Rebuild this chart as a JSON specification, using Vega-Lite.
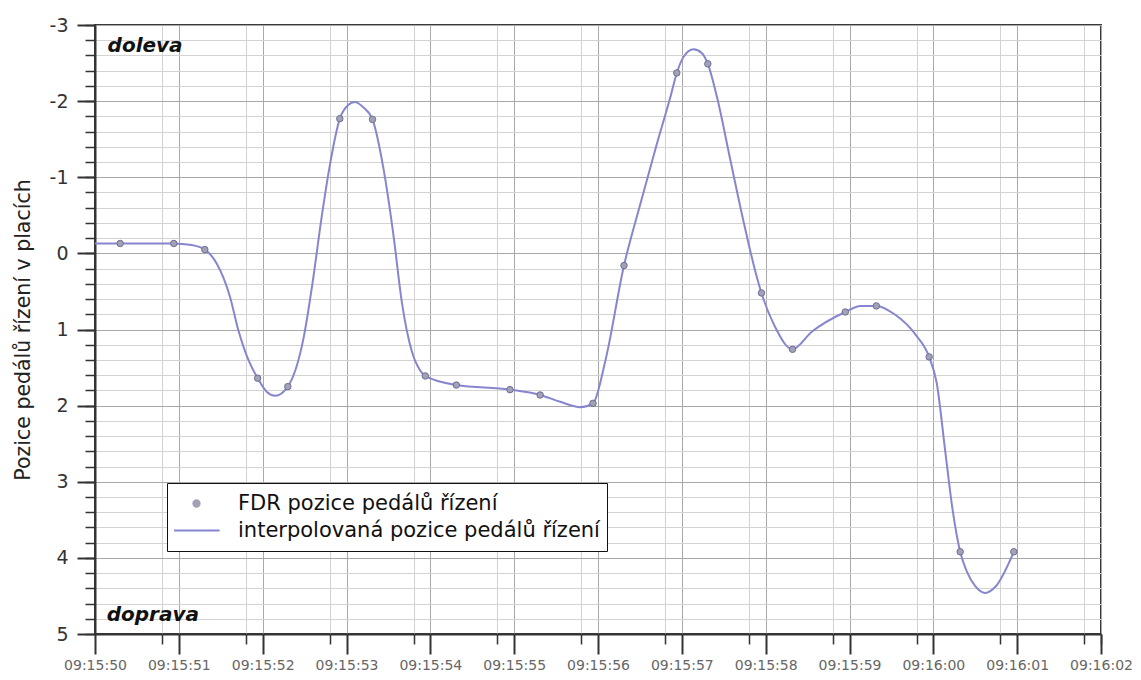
{
  "$schema": "https://vega.github.io/schema/vega-lite/v6.json",
  "width": 1006,
  "height": 609,
  "autosize": {"type": "none"},
  "padding": {"left": 95, "top": 25, "right": 40, "bottom": 46},
  "background": "white",
  "config": {
    "font": "DejaVu Sans",
    "view": {"stroke": "#3a3a3a", "strokeWidth": 2}
  },
  "datasets": {
    "fdr": [
      {"time": "2011-01-01T09:15:50.300", "position": -0.13},
      {"time": "2011-01-01T09:15:50.940", "position": -0.13},
      {"time": "2011-01-01T09:15:51.310", "position": -0.05},
      {"time": "2011-01-01T09:15:51.940", "position": 1.64},
      {"time": "2011-01-01T09:15:52.300", "position": 1.75},
      {"time": "2011-01-01T09:15:52.920", "position": -1.77},
      {"time": "2011-01-01T09:15:53.310", "position": -1.76},
      {"time": "2011-01-01T09:15:53.940", "position": 1.61},
      {"time": "2011-01-01T09:15:54.310", "position": 1.73},
      {"time": "2011-01-01T09:15:54.950", "position": 1.79},
      {"time": "2011-01-01T09:15:55.310", "position": 1.86},
      {"time": "2011-01-01T09:15:55.940", "position": 1.97},
      {"time": "2011-01-01T09:15:56.310", "position": 0.16},
      {"time": "2011-01-01T09:15:56.940", "position": -2.37},
      {"time": "2011-01-01T09:15:57.310", "position": -2.49},
      {"time": "2011-01-01T09:15:57.950", "position": 0.52},
      {"time": "2011-01-01T09:15:58.320", "position": 1.26},
      {"time": "2011-01-01T09:15:58.950", "position": 0.77},
      {"time": "2011-01-01T09:15:59.320", "position": 0.69},
      {"time": "2011-01-01T09:15:59.950", "position": 1.36},
      {"time": "2011-01-01T09:16:00.320", "position": 3.92},
      {"time": "2011-01-01T09:16:00.960", "position": 3.92}
    ],
    "interpolated": [
      {"time": "2011-01-01T09:15:50.000", "position": -0.13},
      {"time": "2011-01-01T09:15:50.300", "position": -0.13},
      {"time": "2011-01-01T09:15:50.940", "position": -0.13},
      {"time": "2011-01-01T09:15:51.150", "position": -0.11},
      {"time": "2011-01-01T09:15:51.310", "position": -0.05},
      {"time": "2011-01-01T09:15:51.450", "position": 0.13},
      {"time": "2011-01-01T09:15:51.610", "position": 0.57},
      {"time": "2011-01-01T09:15:51.710", "position": 1.01},
      {"time": "2011-01-01T09:15:51.830", "position": 1.40},
      {"time": "2011-01-01T09:15:51.940", "position": 1.64},
      {"time": "2011-01-01T09:15:52.050", "position": 1.82},
      {"time": "2011-01-01T09:15:52.150", "position": 1.87},
      {"time": "2011-01-01T09:15:52.300", "position": 1.75},
      {"time": "2011-01-01T09:15:52.490", "position": 1.10},
      {"time": "2011-01-01T09:15:52.600", "position": 0.35},
      {"time": "2011-01-01T09:15:52.700", "position": -0.45},
      {"time": "2011-01-01T09:15:52.800", "position": -1.15},
      {"time": "2011-01-01T09:15:52.920", "position": -1.77},
      {"time": "2011-01-01T09:15:53.020", "position": -1.95},
      {"time": "2011-01-01T09:15:53.100", "position": -1.99},
      {"time": "2011-01-01T09:15:53.200", "position": -1.92},
      {"time": "2011-01-01T09:15:53.310", "position": -1.76},
      {"time": "2011-01-01T09:15:53.440", "position": -1.12},
      {"time": "2011-01-01T09:15:53.560", "position": -0.24},
      {"time": "2011-01-01T09:15:53.660", "position": 0.64},
      {"time": "2011-01-01T09:15:53.780", "position": 1.29},
      {"time": "2011-01-01T09:15:53.880", "position": 1.54},
      {"time": "2011-01-01T09:15:53.940", "position": 1.61},
      {"time": "2011-01-01T09:15:54.310", "position": 1.73},
      {"time": "2011-01-01T09:15:54.950", "position": 1.79},
      {"time": "2011-01-01T09:15:55.310", "position": 1.86},
      {"time": "2011-01-01T09:15:55.550", "position": 1.95},
      {"time": "2011-01-01T09:15:55.790", "position": 2.02},
      {"time": "2011-01-01T09:15:55.940", "position": 1.97},
      {"time": "2011-01-01T09:15:56.090", "position": 1.40},
      {"time": "2011-01-01T09:15:56.310", "position": 0.16},
      {"time": "2011-01-01T09:15:56.500", "position": -0.63},
      {"time": "2011-01-01T09:15:56.700", "position": -1.43},
      {"time": "2011-01-01T09:15:56.860", "position": -2.04},
      {"time": "2011-01-01T09:15:56.940", "position": -2.37},
      {"time": "2011-01-01T09:15:57.020", "position": -2.58},
      {"time": "2011-01-01T09:15:57.140", "position": -2.68},
      {"time": "2011-01-01T09:15:57.240", "position": -2.63},
      {"time": "2011-01-01T09:15:57.310", "position": -2.49},
      {"time": "2011-01-01T09:15:57.420", "position": -2.05},
      {"time": "2011-01-01T09:15:57.580", "position": -1.22},
      {"time": "2011-01-01T09:15:57.740", "position": -0.40},
      {"time": "2011-01-01T09:15:57.880", "position": 0.25},
      {"time": "2011-01-01T09:15:57.950", "position": 0.52},
      {"time": "2011-01-01T09:15:58.110", "position": 0.96},
      {"time": "2011-01-01T09:15:58.320", "position": 1.26},
      {"time": "2011-01-01T09:15:58.550", "position": 1.03},
      {"time": "2011-01-01T09:15:58.950", "position": 0.77},
      {"time": "2011-01-01T09:15:59.130", "position": 0.69},
      {"time": "2011-01-01T09:15:59.320", "position": 0.69},
      {"time": "2011-01-01T09:15:59.550", "position": 0.81},
      {"time": "2011-01-01T09:15:59.790", "position": 1.07},
      {"time": "2011-01-01T09:15:59.950", "position": 1.36},
      {"time": "2011-01-01T09:16:00.040", "position": 1.70},
      {"time": "2011-01-01T09:16:00.140", "position": 2.58},
      {"time": "2011-01-01T09:16:00.230", "position": 3.37},
      {"time": "2011-01-01T09:16:00.320", "position": 3.92},
      {"time": "2011-01-01T09:16:00.400", "position": 4.18},
      {"time": "2011-01-01T09:16:00.500", "position": 4.37},
      {"time": "2011-01-01T09:16:00.620", "position": 4.46},
      {"time": "2011-01-01T09:16:00.740", "position": 4.38},
      {"time": "2011-01-01T09:16:00.960", "position": 3.92}
    ]
  },
  "layer": [
    {
      "data": {"name": "interpolated"},
      "mark": {"type": "line", "interpolate": "monotone", "strokeWidth": 2},
      "encoding": {
        "x": {
          "field": "time",
          "type": "temporal",
          "scale": {
            "domain": [
              {"year": 2011, "month": 1, "date": 1, "hours": 9, "minutes": 15, "seconds": 50},
              {"year": 2011, "month": 1, "date": 1, "hours": 9, "minutes": 16, "seconds": 2}
            ],
            "nice": false
          },
          "axis": {
            "orient": "bottom",
            "title": null,
            "labels": false,
            "domain": false,
            "tickCount": 60,
            "tickSize": 10,
            "tickWidth": 1.5,
            "tickColor": "#333333",
            "grid": true,
            "gridColor": "#d3d3d3",
            "gridWidth": 1
          }
        },
        "y": {
          "field": "position",
          "type": "quantitative",
          "scale": {"domain": [-3, 5], "reverse": true, "nice": false, "zero": false},
          "axis": {
            "orient": "left",
            "title": null,
            "labels": false,
            "domain": false,
            "tickCount": 40,
            "tickSize": 10,
            "tickWidth": 1.5,
            "tickColor": "#333333",
            "grid": true,
            "gridColor": "#d3d3d3",
            "gridWidth": 1
          }
        },
        "color": {
          "datum": "interpolovaná pozice pedálů řízení",
          "scale": {
            "domain": ["FDR pozice pedálů řízení", "interpolovaná pozice pedálů řízení"],
            "range": ["#a2a2b6", "#8686d0"]
          },
          "legend": {
            "title": null,
            "orient": "none",
            "legendX": 72,
            "legendY": 458,
            "direction": "vertical",
            "columns": 1,
            "padding": 7,
            "strokeColor": "#111111",
            "fillColor": "white",
            "clipHeight": 27,
            "rowPadding": 0,
            "symbolSize": 40,
            "symbolStrokeWidth": 2,
            "symbolOffset": 12,
            "labelOffset": 31,
            "labelFont": "DejaVu Sans",
            "labelFontSize": 21,
            "labelColor": "#111111",
            "labelLimit": 0
          }
        }
      }
    },
    {
      "data": {"name": "fdr"},
      "mark": {"type": "point", "filled": true, "size": 42, "opacity": 1, "stroke": "#6e6e98", "strokeWidth": 1},
      "encoding": {
        "x": {
          "field": "time",
          "type": "temporal",
          "axis": {
            "orient": "bottom",
            "title": null,
            "format": "%H:%M:%S",
            "tickCount": 12,
            "tickSize": 20,
            "tickWidth": 2,
            "tickColor": "#333333",
            "domain": true,
            "domainColor": "#333333",
            "domainWidth": 2,
            "grid": true,
            "gridColor": "#a8a8a8",
            "gridWidth": 1,
            "labelFont": "DejaVu Sans",
            "labelFontSize": 14,
            "labelColor": "#666666",
            "labelPadding": 4,
            "labelOverlap": false,
            "labelFlush": false
          }
        },
        "y": {
          "field": "position",
          "type": "quantitative",
          "axis": {
            "orient": "left",
            "values": [-3, -2, -1, 0, 1, 2, 3, 4, 5],
            "labelExpr": "'' + datum.value",
            "tickSize": 18,
            "tickWidth": 2,
            "tickColor": "#333333",
            "domain": true,
            "domainColor": "#333333",
            "domainWidth": 2,
            "grid": true,
            "gridColor": "#a8a8a8",
            "gridWidth": 1,
            "labelFont": "DejaVu Sans",
            "labelFontSize": 19,
            "labelColor": "#333333",
            "labelPadding": 9,
            "title": "Pozice pedálů řízení v placích",
            "titleFont": "DejaVu Sans",
            "titleFontSize": 20.5,
            "titleFontWeight": "normal",
            "titleColor": "#222222",
            "titleAngle": -90,
            "titleX": -72,
            "titleY": 304.5,
            "titleAlign": "center",
            "titleBaseline": "middle"
          }
        },
        "color": {"datum": "FDR pozice pedálů řízení"},
        "shape": {
          "datum": "FDR pozice pedálů řízení",
          "scale": {
            "domain": ["FDR pozice pedálů řízení", "interpolovaná pozice pedálů řízení"],
            "range": ["circle", "M-7.3,0H7.3"]
          }
        }
      }
    },
    {
      "data": {"values": [{"label": "doleva"}]},
      "mark": {"type": "text", "align": "left", "baseline": "middle", "font": "DejaVu Sans", "fontSize": 20, "fontStyle": "italic", "fontWeight": "bold", "color": "#111111"},
      "encoding": {
        "x": {"datum": {"year": 2011, "month": 1, "date": 1, "hours": 9, "minutes": 15, "seconds": 50, "milliseconds": 150}, "type": "temporal", "axis": null},
        "y": {"datum": -2.73, "type": "quantitative", "axis": null},
        "text": {"field": "label"}
      }
    },
    {
      "data": {"values": [{"label": "doprava"}]},
      "mark": {"type": "text", "align": "left", "baseline": "middle", "font": "DejaVu Sans", "fontSize": 20, "fontStyle": "italic", "fontWeight": "bold", "color": "#111111"},
      "encoding": {
        "x": {"datum": {"year": 2011, "month": 1, "date": 1, "hours": 9, "minutes": 15, "seconds": 50, "milliseconds": 140}, "type": "temporal", "axis": null},
        "y": {"datum": 4.75, "type": "quantitative", "axis": null},
        "text": {"field": "label"}
      }
    }
  ],
  "resolve": {"axis": {"x": "independent", "y": "independent"}}
}
